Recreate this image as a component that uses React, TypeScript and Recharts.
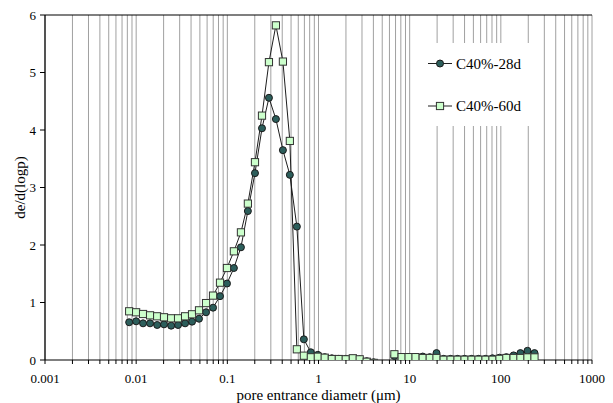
import { LineChart, Line, XAxis, YAxis, CartesianGrid, Legend, ReferenceLine } from 'recharts'

// pore entrance diameter (µm)
const diameters = [
  0.00838, 0.00999, 0.0119, 0.0142, 0.017, 0.0202, 0.0242, 0.0288, 0.0344, 0.041,
  0.0489, 0.0584, 0.0697, 0.0831, 0.0991, 0.118, 0.141, 0.168, 0.201, 0.24,
  0.286, 0.341, 0.407, 0.485, 0.579, 0.691, 0.824, 0.983, 1.17, 1.4,
  1.67, 1.99, 2.38, 2.83, 3.38, 4.03, 4.81,
  6.8, 8.17, 9.74, 11.6, 13.9, 16.6, 19.7, 23.6, 28.1, 33.5,
  40.0, 47.7, 56.9, 67.9, 81.0, 96.7, 115, 138, 164, 196, 234,
]

const c28d = [
  0.656, 0.673, 0.638, 0.638, 0.609, 0.62, 0.597, 0.609, 0.638, 0.667,
  0.718, 0.83, 0.91, 1.11, 1.33, 1.6, 1.96, 2.59, 3.25, 4.03,
  4.56, 4.19, 3.65, 3.22, 2.32, 0.36, 0.134, 0.09, 0.05, 0.03,
  0.02, 0.02, 0.02, 0.01, -0.02, -0.04, null,
  0.07, 0.04, 0.05, 0.05, 0.06, 0.05, 0.12, 0.02, 0.02, 0.02,
  0.02, 0.02, 0.02, 0.02, 0.03, 0.04, 0.05, 0.08, 0.12, 0.16, 0.12,
]

const c60d = [
  0.847, 0.83, 0.8, 0.777, 0.76, 0.743, 0.725, 0.725, 0.76, 0.795,
  0.864, 0.99, 1.12, 1.345, 1.6, 1.89, 2.22, 2.72, 3.44, 4.25,
  5.18, 5.82, 5.19, 3.81, 0.186, 0.075, 0.047, 0.057, 0.04, 0.017,
  0.017, 0.012, 0.03, 0.012, -0.03, -0.05, null,
  0.1, 0.05, 0.05, 0.05, 0.035, 0.035, 0.035, 0.005, 0.005, 0.005,
  0.005, 0.005, 0.005, 0.005, 0.005, 0.02, 0.035, 0.035, 0.035, 0.045, 0.045,
]

const seriesNames = ['C40%-28d', 'C40%-60d']
const decades = [0.001, 0.01, 0.1, 1, 10, 100, 1000]
const yTicks = [0, 1, 2, 3, 4, 5, 6]

const data = diameters.map((d, i) => ({ d, a: c28d[i], b: c60d[i] }))

// every 1..9 step of each decade, labels only on the decades
const xTicks: number[] = []
decades.slice(0, -1).forEach((dec) => {
  for (let m = 1; m < 10; m++) xTicks.push(Number((dec * m).toPrecision(3)))
})
xTicks.push(1000)

const FONT = '"Liberation Serif", "Times New Roman", serif'
const DARK = '#2c5e5b'
const LIGHT = '#ccffcc'
const LINE = '#1e1e1e'

const SquareDot = (props: any) => {
  const { cx, cy, index } = props
  if (cx == null || cy == null || isNaN(cx) || isNaN(cy)) return <g key={index} />
  return (
    <rect key={index} x={cx - 3.6} y={cy - 3.6} width={7.2} height={7.2}
      fill={LIGHT} stroke="#333" strokeWidth={1} />
  )
}

const CircleDot = (props: any) => {
  const { cx, cy, index } = props
  if (cx == null || cy == null || isNaN(cx) || isNaN(cy)) return <g key={index} />
  return <circle key={index} cx={cx} cy={cy} r={3.5} fill={DARK} stroke="#1a1a1a" strokeWidth={1} />
}

const LegendBox = () => (
  <svg width={116} height={83} style={{ display: 'block', background: '#fff' }}>
    <line x1={8} x2={32} y1={20.5} y2={20.5} stroke={LINE} />
    <circle cx={20} cy={20.5} r={3.5} fill={DARK} stroke="#1a1a1a" />
    <text x={36} y={20.5} dy="0.35em" fontFamily={FONT} fontSize={15} fill="#000">{seriesNames[0]}</text>
    <line x1={8} x2={32} y1={63} y2={63} stroke={LINE} />
    <rect x={16.4} y={59.4} width={7.2} height={7.2} fill={LIGHT} stroke="#333" />
    <text x={36} y={63} dy="0.35em" fontFamily={FONT} fontSize={15} fill="#000">{seriesNames[1]}</text>
  </svg>
)

const tickStyle = { fontFamily: FONT, fontSize: 13, fill: '#000', style: { fontFamily: FONT } }

export default function App() {
  return (
    <div style={{ position: 'fixed', left: 0, top: 0, width: 613, height: 403, background: '#fff' }}>
      <LineChart width={613} height={403} data={data}
        margin={{ top: 15, right: 21, bottom: 0, left: 0 }}>
        <CartesianGrid horizontal={false} stroke="#a0a0a0" strokeWidth={1} />
        <XAxis
          dataKey="d"
          type="number"
          scale="log"
          domain={[0.001, 1000]}
          allowDataOverflow
          ticks={xTicks}
          interval={0}
          tickFormatter={(v: number) => (decades.includes(v) ? String(v) : '')}
          tickSize={4}
          tickMargin={10}
          height={43}
          axisLine={{ stroke: '#000', strokeWidth: 1.2 }}
          tickLine={{ stroke: '#000' }}
          tick={tickStyle}
          label={{
            value: 'pore entrance diametr (μm)',
            position: 'insideBottom',
            offset: 3,
            style: { fontFamily: FONT, fontSize: 15, fill: '#000' },
          }}
        />
        <YAxis
          type="number"
          domain={[0, 6]}
          allowDataOverflow
          ticks={yTicks}
          width={45}
          tickSize={5}
          tickMargin={4}
          axisLine={{ stroke: '#000', strokeWidth: 1.2 }}
          tickLine={{ stroke: '#000' }}
          tick={tickStyle}
          label={{
            value: 'de/d(logp)',
            angle: -90,
            position: 'insideLeft',
            offset: 20,
            style: { fontFamily: FONT, fontSize: 15, fill: '#000', textAnchor: 'middle' },
          }}
        />
        <ReferenceLine y={6} stroke="#000" strokeWidth={1.2} />
        <Legend
          layout="vertical"
          align="center"
          verticalAlign="middle"
          content={() => <LegendBox />}
          wrapperStyle={{ position: 'absolute', left: 420, top: 43, width: 116, height: 83 }}
        />
        <Line
          dataKey="a"
          name={seriesNames[0]}
          type="linear"
          stroke={LINE}
          strokeWidth={1}
          dot={CircleDot}
          activeDot={false}
          isAnimationActive={false}
        />
        <Line
          dataKey="b"
          name={seriesNames[1]}
          type="linear"
          stroke={LINE}
          strokeWidth={1}
          dot={SquareDot}
          activeDot={false}
          isAnimationActive={false}
        />
      </LineChart>
    </div>
  )
}
